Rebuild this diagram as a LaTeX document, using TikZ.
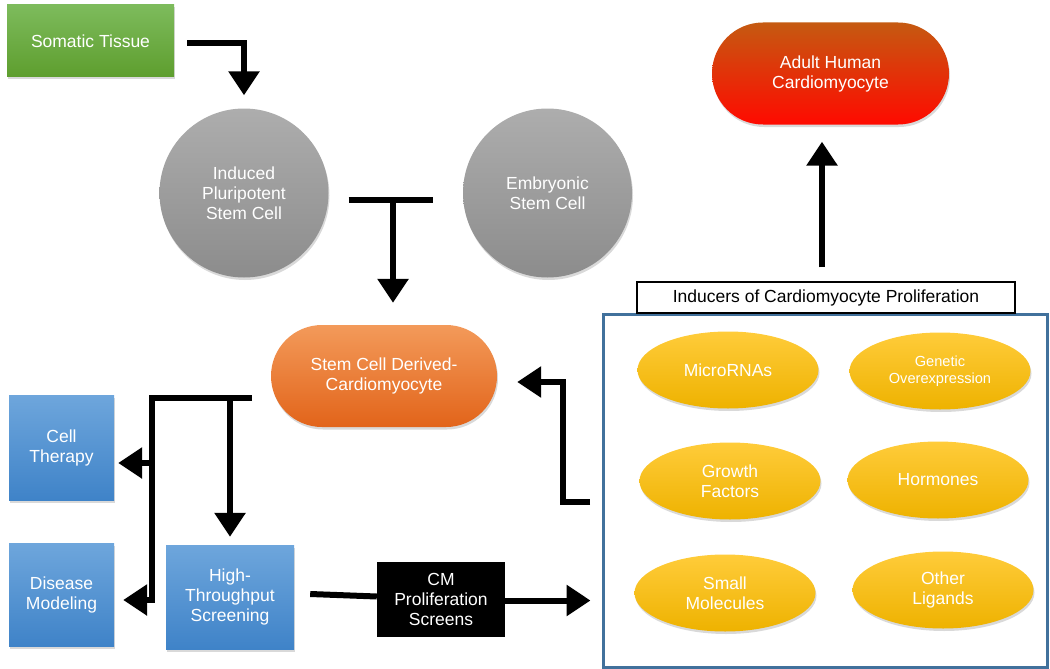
\documentclass[tikz,border=0pt]{standalone}
\usepackage{fontspec}
\setmainfont{Liberation Sans}
\usetikzlibrary{arrows.meta,shadows,shapes.geometric}
\definecolor{gtop}{HTML}{7DBB5C}
\definecolor{gbot}{HTML}{5E9E2E}
\definecolor{ctop}{HTML}{ADADAD}
\definecolor{cbot}{HTML}{8C8C8C}
\definecolor{btop}{HTML}{6EA6DC}
\definecolor{bbot}{HTML}{3F83C8}
\definecolor{otop}{HTML}{F39A5A}
\definecolor{obot}{HTML}{E2641A}
\definecolor{atop}{HTML}{C55A11}
\definecolor{abot}{HTML}{FF0A00}
\definecolor{ytop}{HTML}{FFCC3A}
\definecolor{ybot}{HTML}{EEB200}
\definecolor{frameblue}{HTML}{41719C}
\begin{document}
\begin{tikzpicture}[x=1pt,y=-1pt,
  lbl/.style={text=white,font=\fontsize{17.5}{20}\selectfont,align=center,inner sep=0pt},
  shad/.style={drop shadow={opacity=0.3,shadow xshift=1pt,shadow yshift=-2.5pt}},
  greenbox/.style={lbl,shad,rectangle,top color=gtop,bottom color=gbot,minimum width=167pt,minimum height=72pt},
  bluebox/.style={lbl,shad,rectangle,top color=btop,bottom color=bbot},
  graycirc/.style={lbl,shad,circle,top color=ctop,bottom color=cbot,minimum size=169pt},
  stadium/.style={lbl,shad,rectangle,rounded corners=51pt,minimum height=102pt},
  yell/.style={lbl,shad,ellipse,top color=ytop,bottom color=ybot,minimum width=181pt,minimum height=77pt},
  conn/.style={line width=6pt,line join=miter,-{Triangle[width=30pt,length=24pt]}},
  bar/.style={line width=6pt,line join=miter}]
\useasboundingbox (0,0) rectangle (1050,669);

% nodes
\node[greenbox] (som) at (90.5,41) {Somatic Tissue};
\node[graycirc] (ipsc) at (244,193) {Induced\\Pluripotent\\Stem Cell};
\node[graycirc] (esc) at (547.5,193) {Embryonic\\Stem Cell};
\node[stadium,top color=otop,bottom color=obot,minimum width=226pt] (scdc) at (384,376) {Stem Cell Derived-\\Cardiomyocyte};
\node[stadium,top color=atop,bottom color=abot,minimum width=237pt] (adult) at (830.5,73.5) {Adult Human\\Cardiomyocyte};
\node[bluebox,minimum width=105pt,minimum height=105pt] (ct) at (61.5,447.5) {Cell\\Therapy};
\node[bluebox,minimum width=105pt,minimum height=103pt] (dm) at (61.5,594.5) {Disease\\Modeling};
\node[bluebox,minimum width=128pt,minimum height=104pt] (hts) at (230,597) {High-\\Throughput\\Screening};
\node[lbl,fill=black,minimum width=128pt,minimum height=75pt] (cm) at (441,599.5) {CM\\Proliferation\\Screens};
\node[draw=frameblue,line width=3pt,minimum width=444pt,minimum height=353pt] (frame) at (825,490.5) {};
\node[draw=black,line width=1.2pt,fill=white,minimum width=378pt,minimum height=31pt,inner sep=0pt,font=\fontsize{17.5}{20}\selectfont] (ind) at (826,297.5) {Inducers of Cardiomyocyte Proliferation};
\node[yell] (mir) at (728,370) {MicroRNAs};
\node[yell,font=\fontsize{14.6}{17}\selectfont] (gen) at (940,371) {Genetic\\Overexpression};
\node[yell] (gf) at (730,481) {Growth\\Factors};
\node[yell] (hor) at (938,480) {Hormones};
\node[yell] (sm) at (725,593) {Small\\Molecules};
\node[yell] (ol) at (943,590) {Other\\Ligands};

% helper coordinates
\coordinate (tj) at (393,200);
\coordinate (sn) at ([yshift=22pt]scdc.north);
\coordinate (lr) at (252,398);
\coordinate (lc) at (152,398);
\coordinate (lm) at (152,463);
\coordinate (lbot) at (152,600);
\coordinate (hj) at (230,398);
\coordinate (fb) at (590,502);
\coordinate (fc) at (563,502);
\coordinate (fu) at (563,382);

% connectors
\draw[conn] ([xshift=13pt,yshift=-2pt]som.east) -| ([yshift=13pt]ipsc.north);
\draw[bar] ([xshift=20pt,yshift=-7pt]ipsc.east) -- ([xshift=-30pt,yshift=-7pt]esc.west);
\draw[conn] (tj) -- (tj |- sn);
\draw[conn] (lr) -- (lc) -- (lbot) -- ([xshift=9pt,yshift=-5.5pt]dm.east);
\draw[conn] (lm) -- ([xshift=4pt,yshift=-15.5pt]ct.east);
\draw[conn] (hj) -- ([yshift=8pt]hts.north);
\draw[bar] ([xshift=16pt,yshift=3pt]hts.east) -- ([yshift=3pt]cm.west);
\draw[conn] ([yshift=-1pt]cm.east) -- ([xshift=-11pt,yshift=-1pt]cm.east -| frame.west);
\draw[conn] (fb) -- (fc) -- (fu) -- ([xshift=20pt,yshift=-6pt]scdc.east);
\draw[conn] ([xshift=-4pt,yshift=14pt]ind.north) -- ([xshift=-8.5pt,yshift=-17pt]adult.south);
\end{tikzpicture}
\end{document}
